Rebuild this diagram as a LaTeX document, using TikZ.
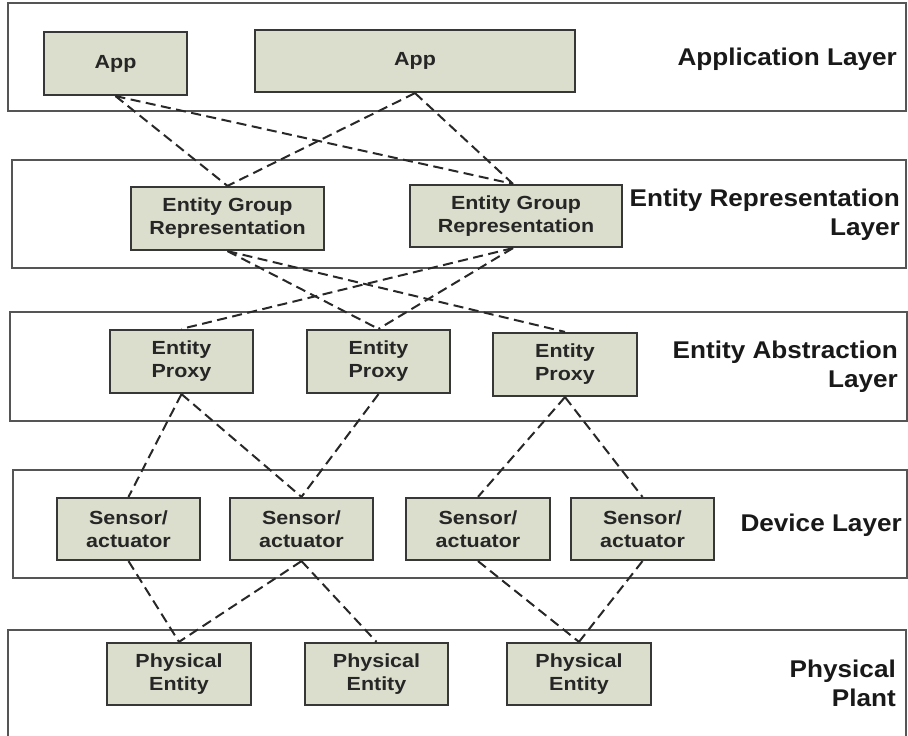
\documentclass[tikz,border=0pt]{standalone}
\usepackage{fontspec}
\setmainfont{Liberation Sans}
\newfontfamily\boxfont{Liberation Sans}[FakeStretch=1.13]
\newfontfamily\lblfont{Liberation Sans}[FakeStretch=1.08]
\definecolor{boxfill}{RGB}{220,222,205}
\definecolor{boxline}{RGB}{55,55,55}
\definecolor{layerline}{RGB}{85,85,85}
\definecolor{linkcol}{RGB}{40,40,40}

\begin{document}
\begin{tikzpicture}[x=1pt,y=-1pt,
  layer/.style={draw=layerline, line width=2.2pt, fill=white, inner sep=0pt},
  unit/.style={draw=boxline, line width=2.2pt, fill=boxfill, align=center,
    inner sep=0pt, font=\boxfont\bfseries\fontsize{19}{23}\selectfont,
    text=black!85},
  lbl/.style={align=right, inner sep=0pt,
    font=\lblfont\bfseries\fontsize{24.2}{28.5}\selectfont, text=black!90},
  link/.style={draw=linkcol, line width=2pt, dash pattern=on 10pt off 5.5pt}]

\useasboundingbox (0,0) rectangle (908,736);
\clip (0,0) rectangle (908,736);

% layer frames
\node[layer, minimum width=898pt, minimum height=108pt] (lay1) at (457,57) {};
\node[layer, minimum width=894pt, minimum height=108pt] (lay2) at (459,214) {};
\node[layer, minimum width=897pt, minimum height=109pt] (lay3) at (458.5,366.5) {};
\node[layer, minimum width=894pt, minimum height=108pt] (lay4) at (460,524) {};
\node[layer, minimum width=898pt, minimum height=130pt] (lay5) at (457,695) {};

% layer captions (base anchor sits on the last line)
\node[lbl, anchor=base east] (cap1) at (897,65) {Application Layer};
\node[lbl, anchor=base east] (cap2) at (900,235) {Entity Representation\\Layer};
\node[lbl, anchor=base east] (cap3) at (898,387) {Entity Abstraction\\Layer};
\node[lbl, anchor=base east] (cap4) at (902,531) {Device Layer};
\node[lbl, anchor=base east] (cap5) at (896,706) {Physical\\Plant};

% application layer
\node[unit, minimum width=143pt, minimum height=63pt] (app1) at (115.5,63.5) {App};
\node[unit, minimum width=320pt, minimum height=62pt] (app2) at (415,61) {App};

% entity representation layer
\node[unit, minimum width=193pt, minimum height=63pt] (egr1) at (227.5,218.5) {Entity Group\\Representation};
\node[unit, minimum width=212pt, minimum height=62pt] (egr2) at (516,216) {Entity Group\\Representation};

% entity abstraction layer
\node[unit, minimum width=143pt, minimum height=63pt] (ep1) at (181.5,361.5) {Entity\\Proxy};
\node[unit, minimum width=143pt, minimum height=63pt] (ep2) at (378.5,361.5) {Entity\\Proxy};
\node[unit, minimum width=144pt, minimum height=63pt] (ep3) at (565,364.5) {Entity\\Proxy};

% device layer
\node[unit, minimum width=143pt, minimum height=62pt] (sa1) at (128.5,529) {Sensor/\\actuator};
\node[unit, minimum width=143pt, minimum height=62pt] (sa2) at (301.5,529) {Sensor/\\actuator};
\node[unit, minimum width=144pt, minimum height=62pt] (sa3) at (478,529) {Sensor/\\actuator};
\node[unit, minimum width=143pt, minimum height=62pt] (sa4) at (642.5,529) {Sensor/\\actuator};

% physical plant
\node[unit, minimum width=144pt, minimum height=62pt] (pe1) at (179,674) {Physical\\Entity};
\node[unit, minimum width=143pt, minimum height=62pt] (pe2) at (376.5,674) {Physical\\Entity};
\node[unit, minimum width=144pt, minimum height=62pt] (pe3) at (579,674) {Physical\\Entity};

% dashed associations between layers
\draw[link] (app1.south) -- (egr1.north);
\draw[link] (app1.south) -- ([xshift=-3pt]egr2.north);
\draw[link] (app2.south) -- (egr1.north);
\draw[link] (app2.south) -- ([xshift=-3pt]egr2.north);

\draw[link] (egr1.south) -- (ep2.north);
\draw[link] (egr1.south) -- (ep3.north);
\draw[link] ([xshift=-3pt]egr2.south) -- (ep1.north);
\draw[link] ([xshift=-3pt]egr2.south) -- (ep2.north);

\draw[link] (ep1.south) -- (sa1.north);
\draw[link] (ep1.south) -- (sa2.north);
\draw[link] (ep2.south) -- (sa2.north);
\draw[link] (ep3.south) -- (sa3.north);
\draw[link] (ep3.south) -- (sa4.north);

\draw[link] (sa1.south) -- (pe1.north);
\draw[link] (sa2.south) -- (pe1.north);
\draw[link] (sa2.south) -- (pe2.north);
\draw[link] (sa3.south) -- (pe3.north);
\draw[link] (sa4.south) -- (pe3.north);
\end{tikzpicture}
\end{document}
